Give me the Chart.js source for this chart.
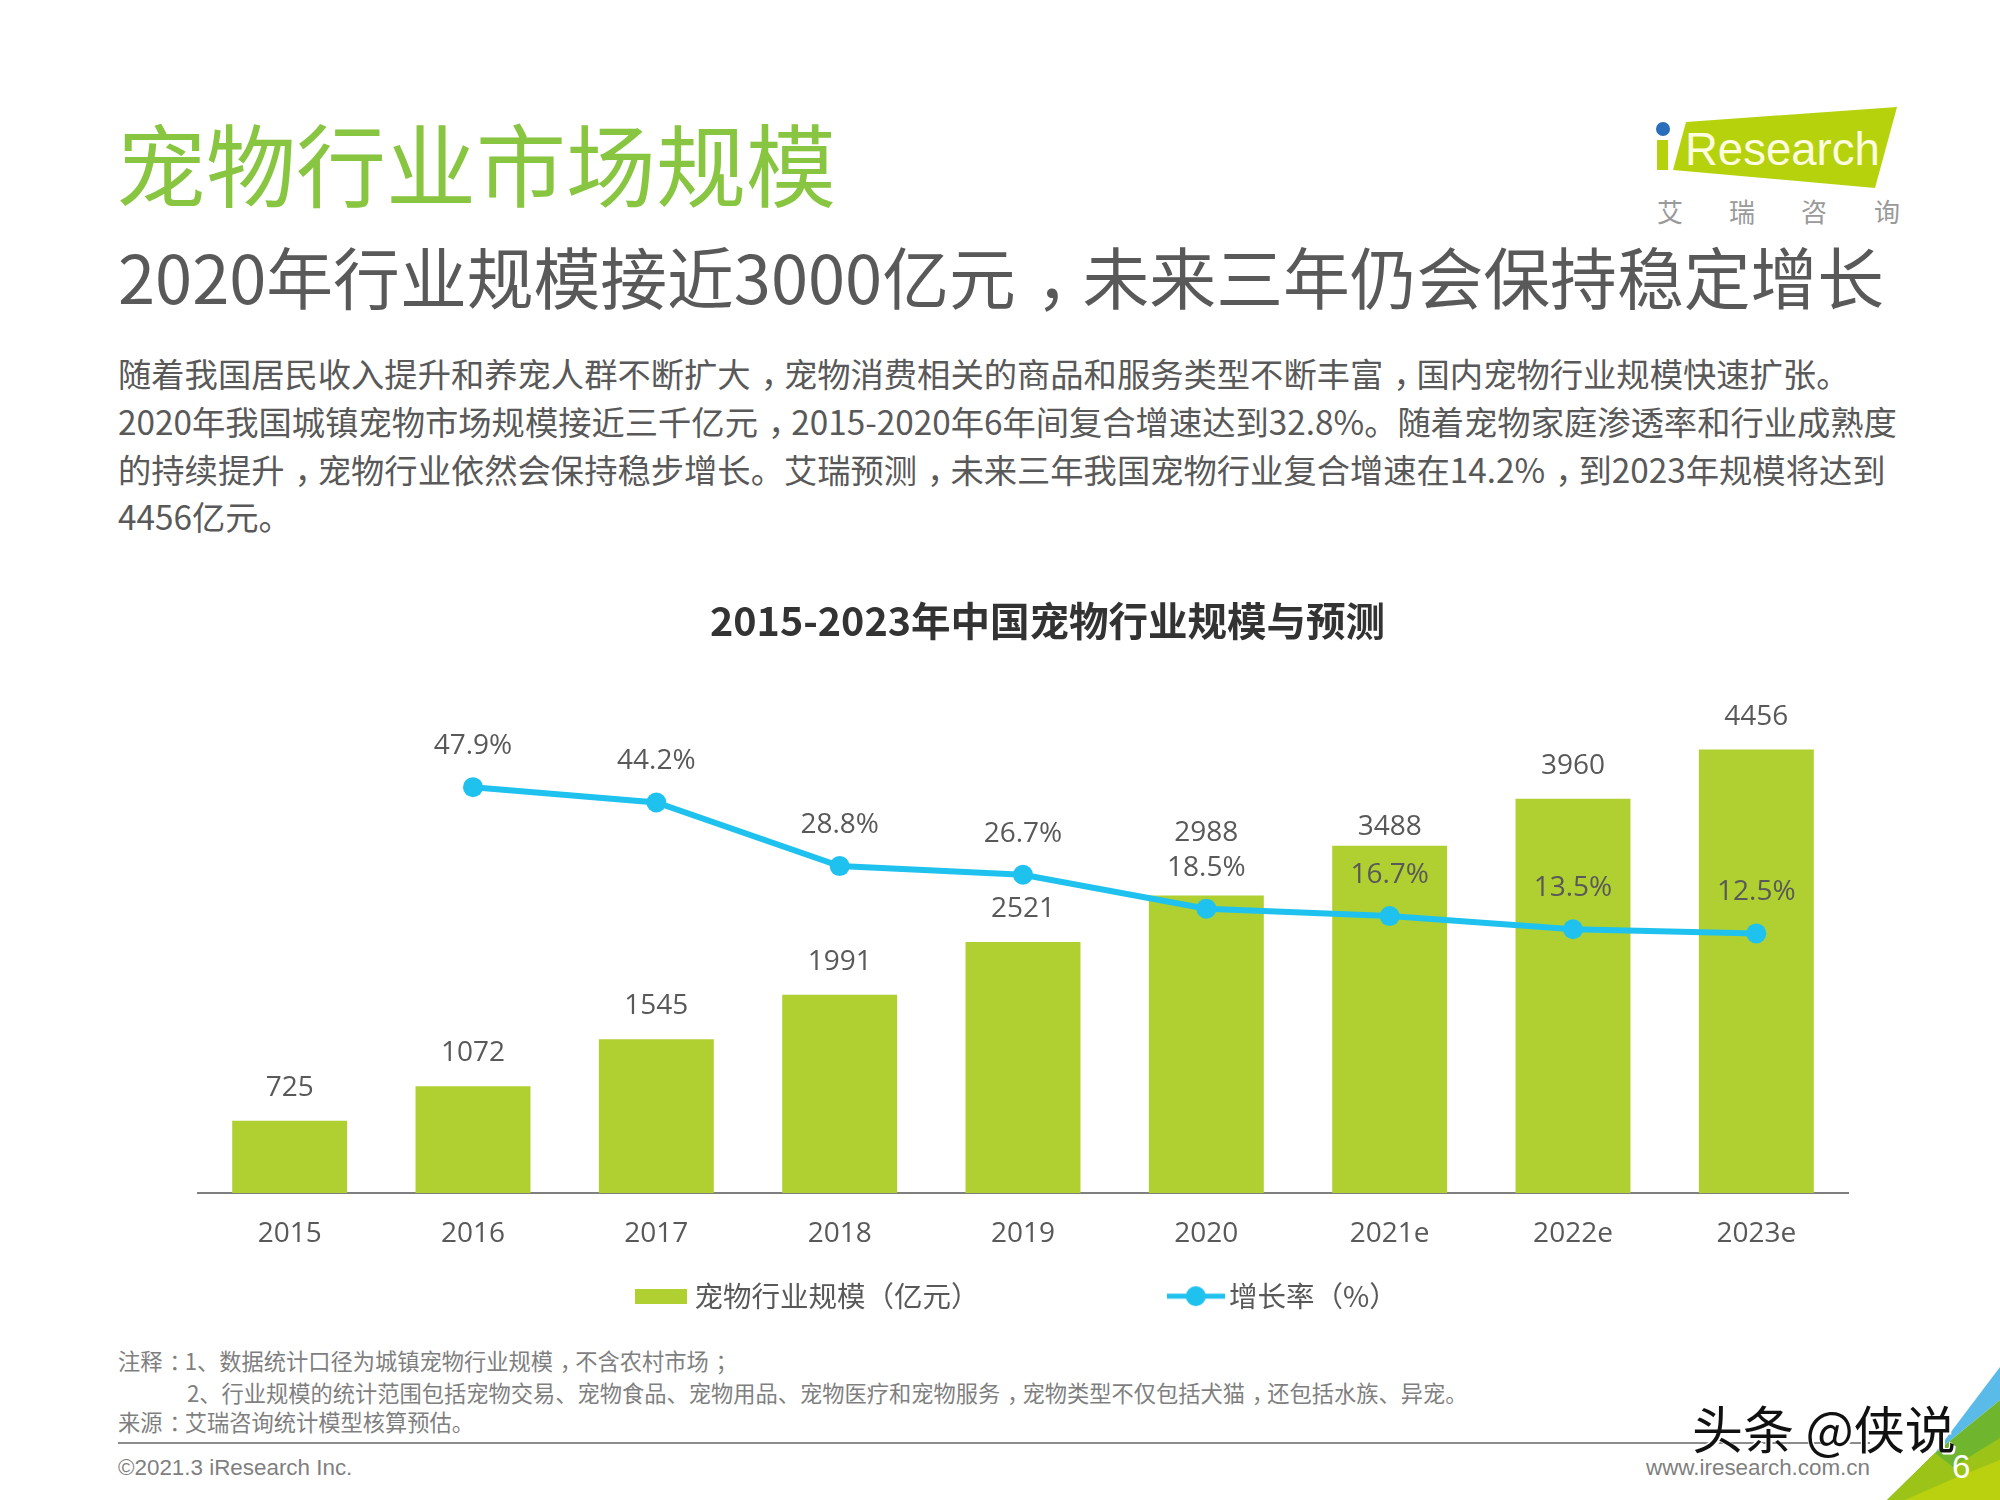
<!DOCTYPE html>
<html><head><meta charset="utf-8">
<script src="https://cdn.jsdelivr.net/npm/chart.js@4/dist/chart.umd.min.js"></script>
<style>
html,body{margin:0;padding:0;background:#fff;width:2000px;height:1500px;overflow:hidden}
.t{position:absolute;white-space:nowrap;font-family:"Noto Sans CJK SC",sans-serif;color:#595959;line-height:1}
.p{position:relative;left:.3em}
#chartBox{position:absolute;left:0;top:590px;width:2000px;height:735px}
svg{position:absolute;left:0;top:0}
</style></head><body>
<svg width="2000" height="1500" viewBox="0 0 2000 1500">
<polygon points="2000,1367 1935,1453 2000,1400" fill="#5bbbe8"/>
<polygon points="2000,1400 1935,1453 1887,1500 2000,1500" fill="#6fb62e"/>
<polygon points="1935,1453 1953,1467 2000,1438 2000,1500 1887,1500" fill="#9cc418"/>
<polygon points="1905,1500 1955,1478 2000,1460 2000,1500" fill="#b9d10e"/>
<polygon points="1686,122 1897,107 1875,188 1673,170" fill="#b5d20c"/>
<rect x="1657" y="140" width="11" height="30" fill="#b5d20c"/>
<circle cx="1663" cy="129" r="7" fill="#2a6ebb"/>
<line x1="118" y1="1443" x2="1870" y2="1443" stroke="#8c8c8c" stroke-width="2"/>
</svg>
<div class="t" style="left:1685px;top:124px;font:45.5px 'Liberation Sans';color:#fdfde0">Research</div>
<div class="t" style="left:1657px;top:198px;font-size:26px;color:#9a9a9a">艾</div>
<div class="t" style="left:1729px;top:198px;font-size:26px;color:#9a9a9a">瑞</div>
<div class="t" style="left:1801px;top:198px;font-size:26px;color:#9a9a9a">咨</div>
<div class="t" style="left:1874px;top:198px;font-size:26px;color:#9a9a9a">询</div>

<div class="t" style="left:116px;top:116px;font-size:90px;color:#88c540">宠物行业市场规模</div>
<div class="t" style="left:118px;top:242px;font-size:66.8px;color:#595959">2020年行业规模接近3000亿元<span class="p">&#xFF0C;</span>未来三年仍会保持稳定增长</div>
<div class="t" style="left:118px;top:356px;font-size:33.3px;color:#595959">随着我国居民收入提升和养宠人群不断扩大<span class="p">&#xFF0C;</span>宠物消费相关的商品和服务类型不断丰富<span class="p">&#xFF0C;</span>国内宠物行业规模快速扩张。</div>
<div class="t" style="left:118px;top:404px;font-size:33.3px;color:#595959">2020年我国城镇宠物市场规模接近三千亿元<span class="p">&#xFF0C;</span>2015-2020年6年间复合增速达到32.8%。随着宠物家庭渗透率和行业成熟度</div>
<div class="t" style="left:118px;top:452px;font-size:33.3px;color:#595959">的持续提升<span class="p">&#xFF0C;</span>宠物行业依然会保持稳步增长。艾瑞预测<span class="p">&#xFF0C;</span>未来三年我国宠物行业复合增速在14.2%<span class="p">&#xFF0C;</span>到2023年规模将达到</div>
<div class="t" style="left:118px;top:499px;font-size:33.3px;color:#595959">4456亿元。</div>

<div id="chartBox"><canvas id="c" width="2000" height="735"></canvas></div>

<div class="t" style="left:118px;top:1349px;font-size:22.25px;color:#7f7f7f">注释<span class="p">&#xFF1A;</span>1、数据统计口径为城镇宠物行业规模<span class="p">&#xFF0C;</span>不含农村市场<span class="p">&#xFF1B;</span></div>
<div class="t" style="left:187px;top:1381px;font-size:22.25px;color:#7f7f7f">2、行业规模的统计范围包括宠物交易、宠物食品、宠物用品、宠物医疗和宠物服务<span class="p">&#xFF0C;</span>宠物类型不仅包括犬猫<span class="p">&#xFF0C;</span>还包括水族、异宠。</div>
<div class="t" style="left:118px;top:1410px;font-size:22.25px;color:#7f7f7f">来源<span class="p">&#xFF1A;</span>艾瑞咨询统计模型核算预估。</div>
<div class="t" style="left:118px;top:1455px;font:22.4px 'Liberation Sans';color:#7f7f7f">©2021.3 iResearch Inc.</div>
<div class="t" style="left:1646px;top:1455px;font:22.4px 'Liberation Sans';color:#7f7f7f">www.iresearch.com.cn</div>
<div class="t" style="left:1692px;top:1402px;font-size:51px;color:#111;text-shadow:2px 2px 0 #fff,-1px -1px 0 #fff">头条 @侠说</div>
<div class="t" style="left:1952px;top:1448px;font:33px 'Liberation Sans';color:#fff">6</div>

<script>
const categories=["2015","2016","2017","2018","2019","2020","2021e","2022e","2023e"];
const marketSize=[725,1072,1545,1991,2521,2988,3488,3960,4456];
const growthRate=[null,47.9,44.2,28.8,26.7,18.5,16.7,13.5,12.5];
const barLabel="宠物行业规模\uFF08亿元\uFF09";
const lineLabel="增长率\uFF08%\uFF09";
const chartTitle="2015-2023年中国宠物行业规模与预测";
const BAR="#b0d032", LINE="#1fc2ee", TEXT="#595959";
const FONT='"Open Sans","Noto Sans CJK SC",sans-serif';

function swatch(w,h,draw){const s=document.createElement('canvas');s.width=w;s.height=h;draw(s.getContext('2d'));return s;}
const barSwatch=swatch(52,15,x=>{x.fillStyle=BAR;x.fillRect(0,0,52,15);});
const lineSwatch=swatch(58,22,x=>{x.strokeStyle=LINE;x.lineWidth=5;x.beginPath();x.moveTo(0,11);x.lineTo(58,11);x.stroke();x.fillStyle=LINE;x.beginPath();x.arc(29,11,10,0,Math.PI*2);x.fill();});

const valueLabels={id:'valueLabels',
 afterLayout(ch){
  ch.titleBlock.left+=49;
  ch.legend.left-=6;
  ch.legend.top-=4.6;
 },
 afterDatasetsDraw(ch){
  const c=ch.ctx;c.save();c.font='28px '+FONT;c.fillStyle=TEXT;c.textAlign='center';c.textBaseline='alphabetic';
  ch.getDatasetMeta(1).data.forEach((el,i)=>{
    const gap=i===5?55:(i===6?11:25);
    c.fillText(String(marketSize[i]),el.x,el.y-gap);
  });
  ch.getDatasetMeta(0).data.forEach((el,i)=>{if(growthRate[i]!=null)c.fillText(growthRate[i].toFixed(1)+'%',el.x,el.y-33);});
  c.restore();
}};

new Chart(document.getElementById('c'),{
  data:{labels:categories,datasets:[
    {type:'line',label:lineLabel,data:growthRate,yAxisID:'y2',order:0,borderColor:LINE,backgroundColor:LINE,borderWidth:6,pointRadius:10,pointHoverRadius:10,pointBackgroundColor:LINE,pointBorderWidth:0,tension:0,spanGaps:false,pointStyle:'circle'},
    {type:'bar',label:barLabel,data:marketSize,yAxisID:'y',order:1,backgroundColor:BAR,categoryPercentage:1,barPercentage:0.627}
  ]},
  plugins:[valueLabels],
  options:{
    responsive:false,animation:false,devicePixelRatio:1,
    layout:{padding:{left:198,right:152,top:0,bottom:0}},
    plugins:{
      title:{display:true,text:chartTitle,color:'#333333',font:{family:'"Noto Sans CJK SC",sans-serif',size:39.5,weight:'bold'},padding:{top:7,bottom:24.6},align:'center'},
      legend:{position:'bottom',labels:{usePointStyle:true,pointStyleWidth:38,color:TEXT,font:{family:'"Noto Sans CJK SC",sans-serif',size:28.5},padding:12,
        generateLabels(ch){return [
          {text:barLabel+'\u3000\u3000\u3000\u3000\u3000\u3000\u3000',pointStyle:barSwatch,fillStyle:BAR,strokeStyle:BAR,lineWidth:0,datasetIndex:1,fontColor:TEXT},
          {text:lineLabel,pointStyle:lineSwatch,fillStyle:LINE,strokeStyle:LINE,lineWidth:0,datasetIndex:0,fontColor:TEXT}];}}},
      tooltip:{enabled:false}
    },
    scales:{
      x:{grid:{display:false,drawTicks:false},border:{color:'#7f7f7f',width:2},ticks:{color:TEXT,font:{family:FONT,size:28},padding:24,maxRotation:0}},
      y:{display:false,min:0,max:5265},
      y2:{display:false,min:-50.3,max:76.5,position:'right'}
    }
  }
});
</script>
</body></html>
